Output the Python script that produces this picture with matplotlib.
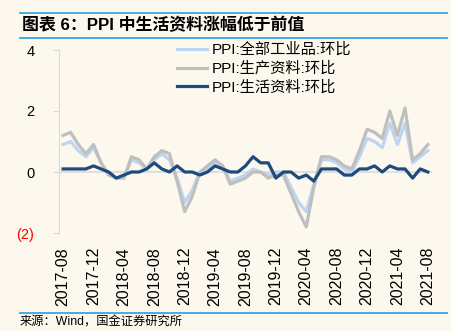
import matplotlib
matplotlib.use("Agg")
import matplotlib.pyplot as plt
import pandas as pd

plt.rcParams['font.family'] = ['Liberation Sans', 'Noto Sans CJK SC', 'DejaVu Sans']

months = pd.date_range("2017-08-01", "2021-08-01", freq="MS").strftime("%Y-%m").tolist()

all_goods = [0.9, 1.0, 0.7, 0.5, 0.8, 0.3, -0.1, -0.2, -0.2, 0.4, 0.3, 0.1, 0.4, 0.6, 0.4, -0.2,
             -1.0, -0.6, 0.0, 0.1, 0.3, 0.2, -0.3, -0.2, -0.1, 0.1, 0.0, -0.1, 0.0, 0.0, -0.5, -1.0,
             -1.3, -0.4, 0.4, 0.4, 0.3, 0.1, 0.0, 0.5, 1.1, 1.0, 0.8, 1.6, 0.9, 1.6, 0.3, 0.5, 0.7]
producer = [1.2, 1.3, 0.9, 0.6, 0.9, 0.3, -0.1, -0.2, -0.2, 0.5, 0.4, 0.1, 0.5, 0.7, 0.6, -0.3,
            -1.3, -0.8, 0.0, 0.2, 0.4, 0.2, -0.4, -0.3, -0.2, 0.0, 0.0, -0.2, -0.1, -0.1, -0.7, -1.3,
            -1.8, -0.5, 0.5, 0.5, 0.4, 0.2, 0.1, 0.7, 1.4, 1.3, 1.1, 2.0, 1.2, 2.1, 0.4, 0.6, 0.9]
consumer = [0.1, 0.1, 0.1, 0.1, 0.2, 0.1, 0.0, -0.2, -0.1, 0.0, 0.0, 0.1, 0.3, 0.1, 0.0, 0.2,
            0.0, 0.0, -0.1, 0.0, 0.2, 0.1, 0.0, 0.0, 0.2, 0.5, 0.3, 0.3, -0.2, 0.0, 0.0, -0.2,
            -0.1, -0.3, 0.1, 0.1, 0.1, -0.1, -0.1, 0.1, 0.1, 0.2, 0.0, 0.2, 0.1, 0.1, -0.2, 0.1, 0.0]

series_names = ["PPI:全部工业品:环比", "PPI:生产资料:环比", "PPI:生活资料:环比"]
y_ticks = [4, 2, 0, -2]
y_tick_labels = ["4", "2", "0", "(2)"]

title = "图表 6：PPI 中生活资料涨幅低于前值"
source = "来源：Wind，国金证券研究所"

bg = "#FDF8EE"
W, H = 452, 331
fig = plt.figure(figsize=(W / 100, H / 100), dpi=100, facecolor=bg)

ax = fig.add_axes([59.3 / W, 1 - 233 / H, 372.3 / W, 183 / H])
ax.set_facecolor(bg)

x = list(range(len(months)))
ax.axhline(0, color="#D9D9D9", lw=1.2, zorder=1)
l1, = ax.plot(x, all_goods, color="#BDD5F0", lw=2.3, zorder=2)
l2, = ax.plot(x, producer, color="#BFBFBF", lw=2.3, zorder=3)
l3, = ax.plot(x, consumer, color="#1F4A7E", lw=2.3, zorder=4)

ax.set_xlim(-0.5, len(months) - 0.5)
ax.set_ylim(-2, 4)
ax.set_yticks(y_ticks)
ax.set_yticklabels(y_tick_labels, fontsize=10.5)
for lab, v in zip(ax.get_yticklabels(), y_ticks):
    lab.set_color("red" if v < 0 else "black")
ax.tick_params(axis="y", length=4, color="#D9D9D9", pad=14)

ax.set_xticks(x[::4])
ax.set_xticklabels(months[::4], rotation=90, fontsize=11.5)
ax.tick_params(axis="x", length=0, pad=10)

for s in ["top", "right", "bottom"]:
    ax.spines[s].set_visible(False)
ax.spines["left"].set_color("#D9D9D9")

fig.legend([l1, l2, l3], series_names, loc="upper left",
           bbox_to_anchor=(177 / W, 1 - 42.5 / H), frameon=False, fontsize=11,
           borderpad=0, borderaxespad=0, handlelength=1.95, handletextpad=0.3,
           labelspacing=0.3)

line_color = "#35A8E0"
fig.add_artist(plt.Line2D([20 / W, 447 / W], [1 - 12.7 / H] * 2, color=line_color, lw=1.3))
fig.add_artist(plt.Line2D([20 / W, 447 / W], [1 - 37.7 / H] * 2, color=line_color, lw=1.3))
fig.add_artist(plt.Line2D([20 / W, 447 / W], [1 - 312.5 / H] * 2, color=line_color, lw=1.3))

fig.text(22 / W, 1 - 25 / H, title, fontsize=12.2, fontweight="bold", va="center", ha="left",
         family=["Liberation Sans", "Noto Sans CJK SC"])
fig.text(20 / W, 1 - 323 / H, source, fontsize=8.8, va="center", ha="left",
         family=["Liberation Sans", "Noto Sans CJK SC"])

fig.savefig("out.png", dpi=100, facecolor=bg)
